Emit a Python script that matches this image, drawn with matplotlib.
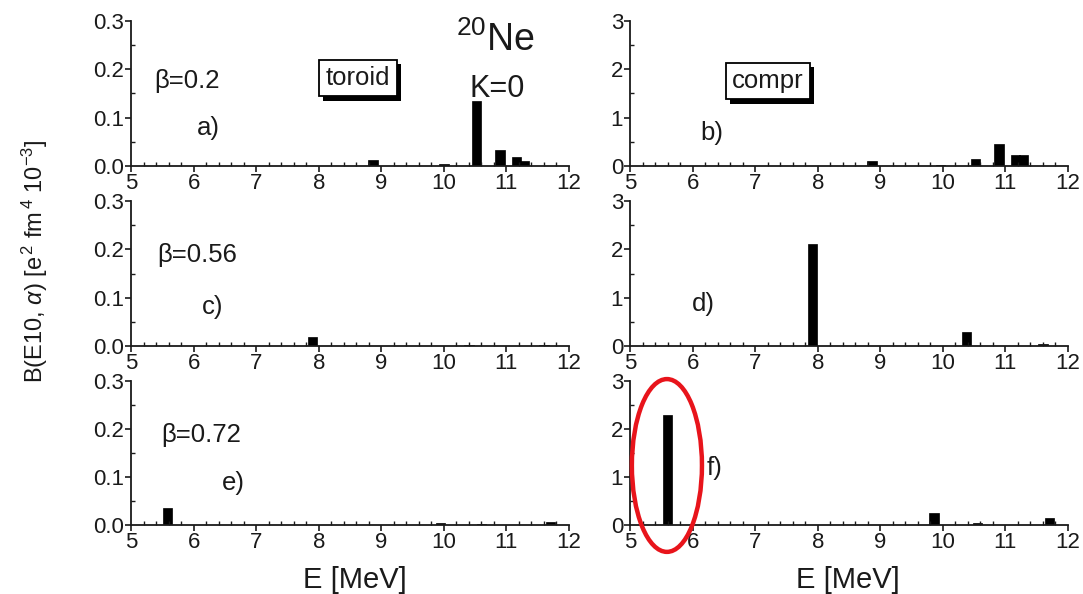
import matplotlib
matplotlib.use("Agg")
import matplotlib.pyplot as plt
from matplotlib.ticker import MultipleLocator, FormatStrFormatter
from matplotlib.patches import Ellipse
import matplotlib.patheffects as pe

plt.rcParams['font.family'] = ['Liberation Sans', 'DejaVu Sans']
plt.rcParams['mathtext.fontset'] = 'custom'
plt.rcParams['mathtext.rm'] = 'Liberation Sans'
plt.rcParams['mathtext.it'] = 'Liberation Sans:italic'
plt.rcParams['mathtext.sf'] = 'Liberation Sans'

INK = '#1a1a1a'

# B(E10) strengths per excitation energy (MeV)
# toroidal operator, left column (units 1e-3 e^2 fm^4)
tor_b020_E = [8.87, 10.0, 10.52, 10.9, 11.16, 11.29]
tor_b020_B = [0.013, 0.004, 0.135, 0.034, 0.019, 0.010]
tor_b056_E = [7.9, 10.4, 11.6]
tor_b056_B = [0.018, 0.003, 0.003]
tor_b072_E = [5.58, 9.95, 10.6, 11.7]
tor_b072_B = [0.036, 0.004, 0.003, 0.006]

# compression operator, right column
com_b020_E = [8.87, 9.96, 10.52, 10.9, 11.16, 11.29]
com_b020_B = [0.10, 0.03, 0.14, 0.45, 0.23, 0.22]
com_b056_E = [7.92, 10.38, 11.6]
com_b056_B = [2.12, 0.29, 0.04]
com_b072_E = [5.6, 9.86, 10.55, 11.7]
com_b072_B = [2.30, 0.25, 0.04, 0.15]

betas = ['β=0.2', 'β=0.56', 'β=0.72']
panel_tags = [['a)', 'b)'], ['c)', 'd)'], ['e)', 'f)']]
x_ticks = [5, 6, 7, 8, 9, 10, 11, 12]

W, H = 1083, 594
fig = plt.figure(figsize=(W / 100, H / 100), dpi=100)

def px(x, y):
    return x / W, 1 - y / H

rows = [(21, 166), (201, 346), (381, 525)]
cols = [(131, 569), (630, 1068)]

data = [[(tor_b020_E, tor_b020_B), (com_b020_E, com_b020_B)],
        [(tor_b056_E, tor_b056_B), (com_b056_E, com_b056_B)],
        [(tor_b072_E, tor_b072_B), (com_b072_E, com_b072_B)]]

axes = [[None, None] for _ in rows]
for r, (top, bot) in enumerate(rows):
    for c, (lft, rgt) in enumerate(cols):
        ax = fig.add_axes([lft / W, 1 - bot / H, (rgt - lft) / W, (bot - top) / H])
        axes[r][c] = ax
        E, B = data[r][c]
        ax.bar(E, B, width=0.15, color='black', edgecolor='black', linewidth=0.5)
        ax.set_xlim(5, 12)
        ax.set_xticks(x_ticks)
        ax.xaxis.set_minor_locator(MultipleLocator(0.2))
        if c == 0:
            ax.set_ylim(0, 0.3)
            ax.yaxis.set_major_locator(MultipleLocator(0.1))
            ax.yaxis.set_minor_locator(MultipleLocator(0.05))
            ax.yaxis.set_major_formatter(FormatStrFormatter('%.1f'))
        else:
            ax.set_ylim(0, 3)
            ax.yaxis.set_major_locator(MultipleLocator(1))
            ax.yaxis.set_minor_locator(MultipleLocator(0.5))
            ax.yaxis.set_major_formatter(FormatStrFormatter('%d'))
        for s in ('top', 'right'):
            ax.spines[s].set_visible(False)
        for s in ('left', 'bottom'):
            ax.spines[s].set_linewidth(1.3)
            ax.spines[s].set_color(INK)
        ax.tick_params(which='major', direction='out', length=4, width=1.2,
                       labelsize=16, colors=INK, pad=1)
        ax.tick_params(which='minor', direction='in', length=3, width=1.0, colors=INK)

# panel annotations
beta_pos = [(187, 81), (197, 255), (201, 435)]
tag_pos = [[(208, 128), (712, 133)], [(213, 307), (703, 304)], [(233, 483), (715, 468)]]
for r in range(3):
    fig.text(*px(*beta_pos[r]), betas[r], fontsize=18.5, color=INK, ha='center', va='center')
    for c in range(2):
        fig.text(*px(*tag_pos[r][c]), panel_tags[r][c], fontsize=18.5, color=INK,
                 ha='center', va='center')

# boxed operator labels with drop shadow
for label, pos in (('toroid', (358, 78)), ('compr', (768, 81))):
    t = fig.text(*px(*pos), label, fontsize=18.5, color=INK, ha='center', va='center',
                 bbox=dict(boxstyle='square,pad=0.25', fc='white', ec='black', lw=1.3))
    t.get_bbox_patch().set_path_effects([
        pe.SimplePatchShadow(offset=(3, -3), shadow_rgbFace='black', alpha=1.0),
        pe.Normal()])

fig.text(*px(495, 40), r'$^{20}$Ne', fontsize=27, color=INK, ha='center', va='center')
fig.text(*px(497, 89), 'K=0', fontsize=22, color=INK, ha='center', va='center')

# axis titles
fig.text(*px(355, 580), 'E [MeV]', fontsize=21, color=INK, ha='center', va='center')
fig.text(*px(848, 580), 'E [MeV]', fontsize=21, color=INK, ha='center', va='center')
fig.text(*px(35, 261), r'B(E10, $\alpha$) [e$^{\,2}$ fm$^{\,4}$ 10$^{-3}$]',
         fontsize=17, color=INK, ha='center', va='center', rotation=90)

# highlight the strong compression peak at beta=0.72
axf = axes[2][1]
axf.add_patch(Ellipse((5.59, 1.24), 1.12, 3.6, transform=axf.transData,
                      fill=False, ec='#e8141b', lw=3.2, clip_on=False, zorder=5))

fig.savefig('out.png', dpi=100, facecolor='white')
